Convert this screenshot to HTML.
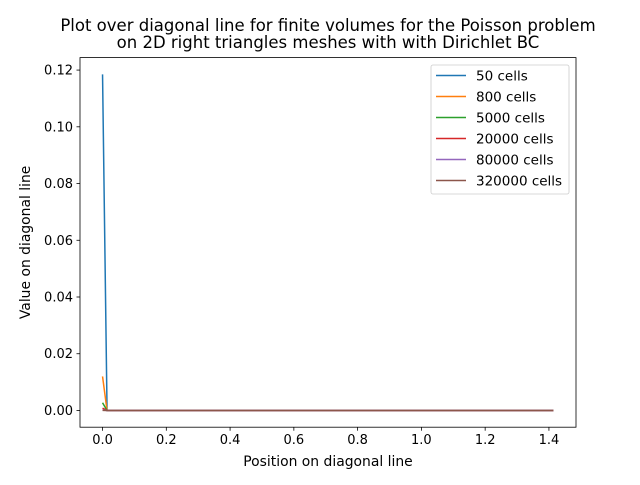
<!DOCTYPE html>
<html><head><meta charset="utf-8"><style>
body{margin:0;background:#fff;font-family:"Liberation Sans","DejaVu Sans",sans-serif}
svg text{font-family:"DejaVu Sans","Liberation Sans",sans-serif}
</style></head><body>
<svg id="chart" width="640" height="480" viewBox="0 0 640 480"></svg>
<script>
const xPositions=[0,0.01414,1.41421];
const seriesNames=["50 cells","800 cells","5000 cells","20000 cells","80000 cells","320000 cells"];
const seriesValues=[
 [0.1185,0,0],
 [0.0120,0,0],
 [0.0027,0,0],
 [0.0008,0,0],
 [0.0002,0,0],
 [0.00005,0,0]
];
const colors=["#1f77b4","#ff7f0e","#2ca02c","#d62728","#9467bd","#8c564b"];
const xTicks=[0,0.2,0.4,0.6,0.8,1.0,1.2,1.4];
const xTickLabels=["0.0","0.2","0.4","0.6","0.8","1.0","1.2","1.4"];
const yTicks=[0,0.02,0.04,0.06,0.08,0.10,0.12];
const yTickLabels=["0.00","0.02","0.04","0.06","0.08","0.10","0.12"];

const L=80,R=576,T=57.6,B=427.2;
const xmin=-0.0707,xmax=1.4849,ymin=-0.0059,ymax=0.1244;
const sx=v=>L+(v-xmin)/(xmax-xmin)*(R-L);
const sy=v=>B-(v-ymin)/(ymax-ymin)*(B-T);
const svg=document.getElementById('chart');
const NS="http://www.w3.org/2000/svg";
function mk(tag,attrs,parent){const e=document.createElementNS(NS,tag);for(const k in attrs)e.setAttribute(k,attrs[k]);(parent||svg).appendChild(e);return e;}

seriesValues.forEach((vals,i)=>{
 const p=mk('polyline',{points:vals.map((v,j)=>sx(xPositions[j])+','+sy(v)).join(' '),fill:'none',stroke:colors[i],'stroke-width':1.5});
 
 
});
const frame=mk('rect',{x:L,y:T,width:R-L,height:B-T,fill:'none',stroke:'#000','stroke-width':0.8});



xTicks.forEach((t,i)=>{
 const x=sx(t);
 mk('line',{x1:x,x2:x,y1:B,y2:B+3.5,stroke:'#000','stroke-width':0.8});
 const tx=mk('text',{x:x,y:B+17,'text-anchor':'middle','font-size':13});
 tx.textContent=xTickLabels[i];
 
 
});
yTicks.forEach((t,i)=>{
 const y=sy(t);
 mk('line',{x1:L-3.5,x2:L,y1:y,y2:y,stroke:'#000','stroke-width':0.8});
 const tx=mk('text',{x:L-7,y:y+4.5,'text-anchor':'end','font-size':13});
 tx.textContent=yTickLabels[i];
 
 
});
const xt=mk('text',{x:(L+R)/2,y:466,'text-anchor':'middle','font-size':13.9});
xt.textContent="Position on diagonal line";


const yt=mk('text',{x:30,y:(T+B)/2,'text-anchor':'middle','font-size':13.9,transform:'rotate(-90 30 '+((T+B)/2)+')'});
yt.textContent="Value on diagonal line";


const t1=mk('text',{x:(L+R)/2,y:31,'text-anchor':'middle','font-size':16.5});
t1.textContent="Plot over diagonal line for finite volumes for the Poisson problem";


const t2=mk('text',{x:(L+R)/2,y:48,'text-anchor':'middle','font-size':16.5});
t2.textContent="on 2D right triangles meshes with with Dirichlet BC";



const lg=mk('g',{});


mk('rect',{x:431,y:65,width:138,height:129,rx:2,fill:'#fff',stroke:'#ccc','stroke-width':0.8},lg);
seriesNames.forEach((n,i)=>{
 const y=75.5+i*21;
 const e=mk('g',{},lg);
 
 
 mk('line',{x1:436,x2:466,y1:y,y2:y,stroke:colors[i],'stroke-width':1.5},e);
 const tx=mk('text',{x:476,y:y+5,'font-size':13.5},e);
 tx.textContent=n;
});
</script>
</body></html>
